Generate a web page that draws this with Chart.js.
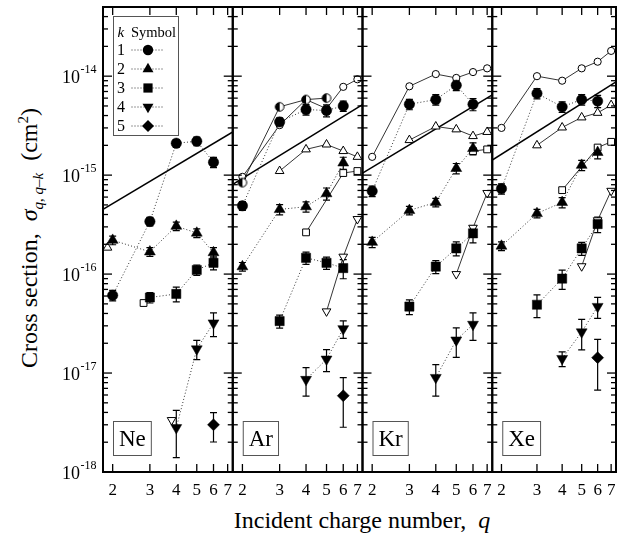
<!DOCTYPE html>
<html lang="en">
<head>
<meta charset="UTF-8">
<title>Cross sections</title>
<script src="https://cdn.jsdelivr.net/npm/chart.js"></script>
<style>
  body { margin: 0; background: #fff; }
  #wrap { position: relative; width: 623px; height: 537px; font-family: "Liberation Serif", "Times New Roman", "DejaVu Serif", serif; color: #000; overflow: hidden; }
  #wrap canvas { position: absolute; left: 0; top: 0; }
  .ytitle { position: absolute; left: 31px; top: 238px; transform: translate(-50%, -50%) rotate(-90deg); font-size: 24px; white-space: nowrap; }
  .xtitle { position: absolute; left: 362px; top: 520px; transform: translate(-50%, -50%); font-size: 24px; white-space: nowrap; }
  sub, sup { font-size: 15px; }
</style>
</head>
<body>
<div id="wrap">
  <div class="ytitle">Cross section,&nbsp; <i>σ</i><sub><i>q</i>, <i>q</i>–<i>k</i></sub>&nbsp; (cm<sup>2</sup>)</div>
  <div class="xtitle">Incident charge number,&nbsp; <i>q</i></div>
</div>
<script>
const qTicks = [2, 3, 4, 5, 6, 7];
const yDecades = [-18, -17, -16, -15, -14];
const panelNames = ['Ne', 'Ar', 'Kr', 'Xe'];
const legendK = [1, 2, 3, 4, 5];

// measured: [q, sigma (cm^2), error %]
const neK1 = [[2, 6.1e-17, 12], [3, 3.4e-16, 10], [4, 2.1e-15, 9], [5, 2.2e-15, 10], [6, 1.35e-15, 12]];
const neK2 = [[2, 2.2e-16, 10], [3, 1.68e-16, 10], [4, 3.05e-16, 10], [5, 2.6e-16, 10], [6, 1.65e-16, 12]];
const neK3 = [[3, 5.8e-17, 12], [4, 6.3e-17, 17], [5, 1.1e-16, 12], [6, 1.3e-16, 15]];
const neK4 = [[4, 2.8e-18, 50], [5, 1.75e-17, 22], [6, 3.2e-17, 27]];
const neK5 = [[6, 3.0e-18, 33]];

const arK1 = [[2, 4.9e-16, 10], [3, 3.45e-15, 10], [4, 4.6e-15, 12], [5, 4.5e-15, 14], [6, 5.0e-15, 12]];
const arK2 = [[2, 1.19e-16, 10], [3, 4.5e-16, 12], [4, 4.8e-16, 12], [5, 6.5e-16, 14], [6, 1.33e-15, 14]];
const arK3 = [[3, 3.35e-17, 15], [4, 1.46e-16, 14], [5, 1.3e-16, 14], [6, 1.15e-16, 22]];
const arK4 = [[4, 8.6e-18, 32], [5, 1.38e-17, 25], [6, 2.8e-17, 20]];
const arK5 = [[6, 5.9e-18, 52]];

const krK1 = [[2, 6.9e-16, 12], [3, 5.2e-15, 12], [4, 5.8e-15, 12], [5, 8.1e-15, 12], [6, 5.2e-15, 14]];
const krK2 = [[2, 2.1e-16, 12], [3, 4.4e-16, 10], [4, 5.3e-16, 10], [5, 1.17e-15, 12], [6, 1.86e-15, 14]];
const krK3 = [[3, 4.7e-17, 17], [4, 1.19e-16, 15], [5, 1.82e-16, 16], [6, 2.58e-16, 20]];
const krK4 = [[4, 9.0e-18, 35], [5, 2.15e-17, 33], [6, 3.1e-17, 31]];
const krK5 = [];

const xeK1 = [[2, 7.3e-16, 12], [3, 6.7e-15, 12], [4, 4.9e-15, 12], [5, 5.8e-15, 12], [6, 5.6e-15, 14]];
const xeK2 = [[2, 1.92e-16, 10], [3, 4.1e-16, 10], [4, 5.3e-16, 12], [5, 1.26e-15, 12], [6, 1.7e-15, 14]];
const xeK3 = [[3, 4.9e-17, 26], [4, 9.0e-17, 22], [5, 1.82e-16, 15], [6, 3.2e-16, 18]];
const xeK4 = [[4, 1.4e-17, 17], [5, 2.6e-17, 34], [6, 4.7e-17, 24]];
const xeK5 = [[6, 1.43e-17, 53]];

// calculated: [q, sigma (cm^2)]
const neCalcK2 = [[1.89, 1.85e-16]];
const neCalcK3 = [[2.8, 5.1e-17]];
const neCalcK4 = [[3.8, 3.35e-18]];

const arHalfK1 = [[2, 8.4e-16], [3, 4.9e-15], [4, 5.8e-15], [5, 6.0e-15]];
const arCalcK1 = [[2, 9.6e-16], [3, 3.2e-15], [4, 5.8e-15], [5, 4.7e-15], [6, 7.8e-15], [7, 9.3e-15]];
const arCalcK2 = [[3, 1.1e-15], [4, 1.82e-15], [5, 2.04e-15], [6, 1.75e-15], [7, 1.53e-15]];
const arCalcK3 = [[4, 2.64e-16], [6, 1.05e-15], [7, 1.1e-15]];
const arCalcK4 = [[5, 4.2e-17], [6, 1.5e-16], [7, 3.6e-16]];

const krCalcK1 = [[2, 1.53e-15], [3, 7.9e-15], [4, 1.05e-14], [5, 9.6e-15], [6, 1.1e-14], [7, 1.2e-14]];
const krCalcK2 = [[3, 2.26e-15], [4, 3.1e-15], [5, 2.9e-15], [6, 2.48e-15], [7, 2.73e-15]];
const krCalcK3 = [[6, 1.75e-15], [7, 1.82e-15]];
const krCalcK4 = [[5, 1.0e-16], [6, 2.94e-16], [7, 6.6e-16]];

const xeCalcK1 = [[2, 3.0e-15], [3, 1.0e-14], [4, 9.0e-15], [5, 1.2e-14], [6, 1.4e-14], [7, 1.8e-14]];
const xeCalcK2 = [[3, 2.0e-15], [4, 3.03e-15], [5, 3.83e-15], [6, 4.26e-15], [7, 5.1e-15]];
const xeCalcK3 = [[4, 7.05e-16], [6, 1.9e-15], [7, 2.17e-15]];
const xeCalcK4 = [[5, 1.2e-16], [6, 3.5e-16], [7, 6.94e-16]];

// straight scaling line, ends at the panel edges
const neFit = [[1.8, 4.5e-16], [7.4, 2.73e-15]];
const arFit = [[1.8, 8.05e-16], [7.4, 5.16e-15]];
const krFit = [[1.8, 1.05e-15], [7.4, 6.47e-15]];
const xeFit = [[1.8, 1.42e-15], [7.4, 8.77e-15]];

const panels = [
  { meas: [neK1, neK2, neK3, neK4, neK5], calc: [[], neCalcK2, neCalcK3, neCalcK4], half: [], fit: neFit },
  { meas: [arK1, arK2, arK3, arK4, arK5], calc: [arCalcK1, arCalcK2, arCalcK3, arCalcK4], half: arHalfK1, fit: arFit },
  { meas: [krK1, krK2, krK3, krK4, krK5], calc: [krCalcK1, krCalcK2, krCalcK3, krCalcK4], half: [], fit: krFit },
  { meas: [xeK1, xeK2, xeK3, xeK4, xeK5], calc: [xeCalcK1, xeCalcK2, xeCalcK3, xeCalcK4], half: [], fit: xeFit }
];

// symbol for each k: filled size, open size
const kStyle = [
  { s: 'circle', r: 5.2, rot: 0, ro: 3.6 },
  { s: 'triangle', r: 6.3, rot: 0, ro: 5 },
  { s: 'rect', r: 6.5, rot: 0, ro: 4.8 },
  { s: 'triangle', r: 6.3, rot: 180, ro: 5 },
  { s: 'rectRot', r: 6, rot: 0, ro: 4 }
];

const W = 623, H = 537;
const plotLeft = 103, plotTop = 7, plotBottom = 472, panelW = 129.75;
const FONT = '"Liberation Serif", "Times New Roman", "DejaVu Serif", serif';

function halfCircle(r) {
  const c = document.createElement('canvas');
  const s = Math.ceil(2 * r + 3);
  c.width = s; c.height = s;
  const g = c.getContext('2d');
  g.beginPath(); g.arc(s / 2, s / 2, r, 0, 2 * Math.PI); g.fillStyle = '#fff'; g.fill();
  g.beginPath(); g.arc(s / 2, s / 2, r, Math.PI / 2, 3 * Math.PI / 2); g.closePath(); g.fillStyle = '#000'; g.fill();
  g.beginPath(); g.arc(s / 2, s / 2, r, 0, 2 * Math.PI); g.lineWidth = 1; g.strokeStyle = '#000'; g.stroke();
  return c;
}

function drawSym(ctx, st, x, y) {
  const r = st.r;
  ctx.beginPath();
  if (st.s === 'circle') {
    ctx.arc(x, y, r, 0, 2 * Math.PI);
  } else if (st.s === 'triangle') {
    const sgn = st.rot ? -1 : 1;
    for (let j = 0; j < 3; j++) {
      const a = j * 2 * Math.PI / 3;
      const px = x + Math.sin(a) * r, py = y - sgn * Math.cos(a) * r;
      j ? ctx.lineTo(px, py) : ctx.moveTo(px, py);
    }
    ctx.closePath();
  } else if (st.s === 'rect') {
    const h = r * Math.SQRT1_2;
    ctx.rect(x - h, y - h, 2 * h, 2 * h);
  } else {
    ctx.moveTo(x, y - r); ctx.lineTo(x + r, y); ctx.lineTo(x, y + r); ctx.lineTo(x - r, y); ctx.closePath();
  }
  ctx.fill();
}

const errorBars = {
  id: 'errorBars',
  beforeDatasetsDraw(chart) {
    const ctx = chart.ctx, ys = chart.scales.y;
    ctx.save();
    ctx.strokeStyle = '#000';
    ctx.lineWidth = 1.2;
    chart.data.datasets.forEach((ds, di) => {
      const meta = chart.getDatasetMeta(di);
      ds.data.forEach((p, j) => {
        if (!p.e) return;
        const px = meta.data[j].x;
        const top = ys.getPixelForValue(p.y * (1 + p.e / 100));
        const bot = ys.getPixelForValue(p.y * (1 - p.e / 100));
        ctx.beginPath();
        ctx.moveTo(px, top); ctx.lineTo(px, bot);
        ctx.moveTo(px - 3.5, top); ctx.lineTo(px + 3.5, top);
        ctx.moveTo(px - 3.5, bot); ctx.lineTo(px + 3.5, bot);
        ctx.stroke();
      });
    });
    ctx.restore();
  }
};

const frame = {
  id: 'frame',
  afterDraw(chart, args, opts) {
    const { ctx, chartArea: a } = chart;
    const xs = chart.scales.x, ys = chart.scales.y;
    const seg = (x1, y1, x2, y2) => { ctx.beginPath(); ctx.moveTo(x1, y1); ctx.lineTo(x2, y2); ctx.stroke(); };
    ctx.save();
    ctx.strokeStyle = '#000';
    ctx.fillStyle = '#000';
    ctx.lineWidth = 1.3;
    yDecades.forEach(d => {
      for (let m = 1; m <= 9; m++) {
        const v = m * Math.pow(10, d);
        if (v > ys.max * 1.0001) continue;
        const py = ys.getPixelForValue(v);
        const len = m === 1 ? 9 : 5;
        seg(a.left, py, a.left + len, py);
        seg(a.right - len, py, a.right, py);
      }
    });
    qTicks.forEach(q => {
      const px = xs.getPixelForValue(q);
      seg(px, a.bottom, px, a.bottom - 8);
      seg(px, a.top, px, a.top + 8);
    });
    ctx.lineWidth = 2;
    ctx.strokeRect(a.left, a.top, a.right - a.left, a.bottom - a.top);

    ctx.textBaseline = 'middle';
    ctx.textAlign = 'center';
    ctx.font = '17px ' + FONT;
    qTicks.forEach(q => ctx.fillText(String(q), xs.getPixelForValue(q), 491));

    // element label box
    ctx.font = '23px ' + FONT;
    const tw = ctx.measureText(opts.name).width;
    const bx = a.left + 10.5, by = 421.5, bw = tw + 11, bh = 34;
    ctx.lineWidth = 1;
    ctx.strokeStyle = '#555';
    ctx.strokeRect(bx, by, bw, bh);
    ctx.fillText(opts.name, bx + bw / 2, by + bh / 2 + 1);

    if (opts.first) {
      yDecades.forEach(d => {
        const py = ys.getPixelForValue(Math.pow(10, d));
        ctx.textAlign = 'right';
        ctx.font = '18px ' + FONT;
        ctx.fillText('10', 80, py + 2.5);
        ctx.textAlign = 'left';
        ctx.font = '12px ' + FONT;
        ctx.fillText(String(d), 80.5, py - 6);
      });
      // k / symbol key
      ctx.strokeStyle = '#555';
      ctx.lineWidth = 1;
      ctx.strokeRect(113.5, 16.5, 65, 119);
      ctx.textAlign = 'left';
      ctx.font = 'italic 15px ' + FONT;
      ctx.fillText('k', 117.5, 33);
      ctx.font = '14.5px ' + FONT;
      ctx.fillText('Symbol', 131, 33);
      legendK.forEach((k, i) => {
        const ly = 50 + i * 19;
        ctx.textAlign = 'center';
        ctx.font = '16px ' + FONT;
        ctx.fillText(String(k), 121, ly + 1);
        ctx.strokeStyle = '#333';
        ctx.setLineDash([1, 2]);
        seg(131.5, ly, 164, ly);
        ctx.setLineDash([]);
        drawSym(ctx, kStyle[i], 148, ly);
      });
    }
    ctx.restore();
  }
};

const pts = arr => arr.map(([q, s, e]) => ({ x: q, y: s, e: e }));
const half = halfCircle(4.3);

function buildDatasets(p) {
  const sets = [];
  p.meas.forEach((arr, i) => {
    const st = kStyle[i];
    sets.push({
      data: pts(arr),
      borderColor: '#333', borderWidth: 1, borderDash: [1, 2.2],
      pointStyle: st.s, pointRotation: st.rot, pointRadius: st.r,
      pointBackgroundColor: '#000', pointBorderColor: '#000', pointBorderWidth: 0.5
    });
  });
  p.calc.forEach((arr, i) => {
    const st = kStyle[i];
    sets.push({
      data: pts(arr),
      borderColor: '#000', borderWidth: 0.8,
      pointStyle: st.s, pointRotation: st.rot, pointRadius: st.ro,
      pointBackgroundColor: '#fff', pointBorderColor: '#000', pointBorderWidth: 1
    });
  });
  if (p.half.length) {
    sets.unshift({
      data: pts(p.half),
      borderColor: '#000', borderWidth: 0.8,
      pointStyle: half, pointRadius: 4.3
    });
  }
  sets.push({
    data: pts(p.fit),
    borderColor: '#000', borderWidth: 1.5, pointRadius: 0
  });
  return sets;
}

const wrap = document.getElementById('wrap');
panels.forEach((p, i) => {
  const cv = document.createElement('canvas');
  cv.width = W; cv.height = H;
  wrap.appendChild(cv);
  const left = plotLeft + i * panelW;
  new Chart(cv, {
    type: 'line',
    data: { datasets: buildDatasets(p) },
    options: {
      responsive: false,
      animation: false,
      events: [],
      layout: { padding: { left: left, right: W - (left + panelW), top: plotTop, bottom: H - plotBottom } },
      scales: {
        x: { type: 'logarithmic', min: 1.8, max: 7.4, display: false },
        y: { type: 'logarithmic', min: 1e-18, max: 5e-14, display: false }
      },
      elements: { line: { tension: 0, fill: false } },
      plugins: {
        legend: { display: false },
        tooltip: { enabled: false },
        frame: { name: panelNames[i], first: i === 0 }
      }
    },
    plugins: [errorBars, frame]
  });
});
</script>
</body>
</html>
